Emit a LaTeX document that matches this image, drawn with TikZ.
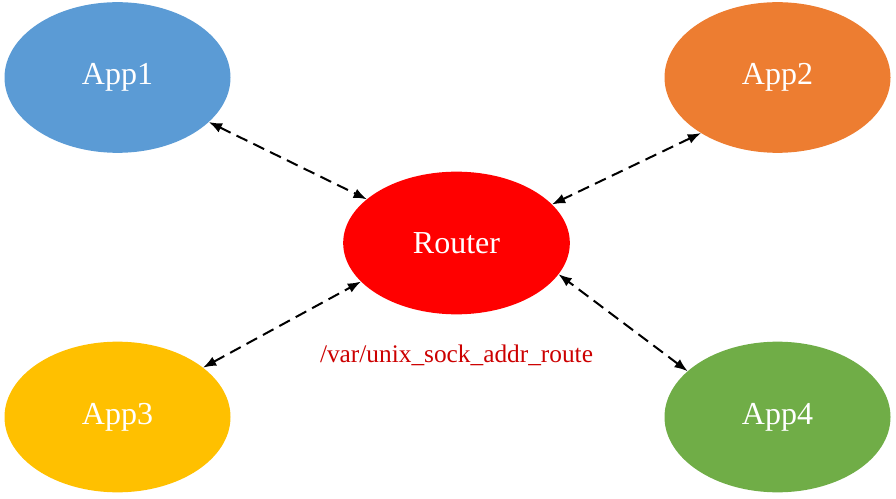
\documentclass[tikz,border=0pt]{standalone}
\usepackage{fontspec}
\setmainfont{Liberation Serif}
\usetikzlibrary{shapes.geometric,arrows.meta}
\definecolor{appblue}{HTML}{5B9BD5}
\definecolor{apporange}{HTML}{ED7D31}
\definecolor{appyellow}{HTML}{FFC000}
\definecolor{appgreen}{HTML}{70AD47}
\definecolor{routerred}{HTML}{FF0000}
\definecolor{sockred}{HTML}{CC0000}

\begin{document}
\begin{tikzpicture}[x=0.75pt,y=-0.75pt,
  app/.style={ellipse,inner sep=0pt,outer sep=0pt,minimum width=169.5pt,minimum height=113pt,
    text=white,font=\fontsize{24}{28}\selectfont},
  link/.style={line width=1.5pt,dash pattern=on 9pt off 5pt,
    {Latex[length=10pt,width=7.5pt]}-{Latex[length=10pt,width=7.5pt]}}]
\useasboundingbox (0,0) rectangle (896,499);
% the five ellipses
\node[app,fill=routerred,minimum width=170pt,minimum height=107pt] (router) at (456.5,243) {Router};
\node[app,fill=appblue]   (app1) at (117.5,77.5) {App1};
\node[app,fill=apporange] (app2) at (777.5,77.5) {App2};
\node[app,fill=appyellow] (app3) at (117.5,417) {App3};
\node[app,fill=appgreen]  (app4) at (777.5,417) {App4};
% socket path
\node[anchor=base,text=sockred,font=\fontsize{19}{22}\selectfont] (sock) at (456.5,362) {/var/unix\_sock\_addr\_route};
% links
\draw[link] (app1.-26) -- (router.154);
\draw[link] (app2.216) -- (router.22);
\draw[link] (app3.30) -- (router.202);
\draw[link] (app4.153) -- (router.-17);
\end{tikzpicture}
\end{document}
